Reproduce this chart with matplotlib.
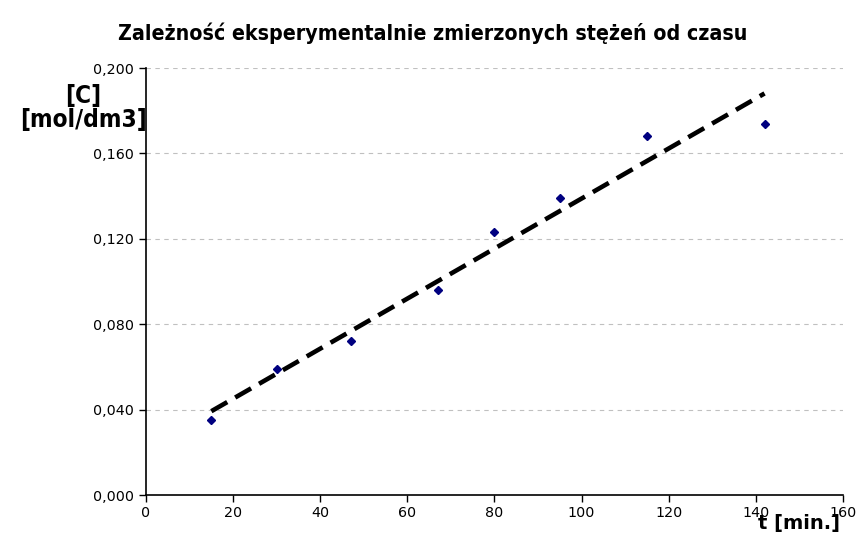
import numpy as np
import matplotlib.pyplot as plt
from matplotlib.ticker import FuncFormatter

# dane pomiarowe
t_min = [15, 30, 47, 67, 80, 95, 115, 142]
conc = [0.035, 0.059, 0.072, 0.096, 0.123, 0.139, 0.168, 0.174]
x_ticks = [0, 20, 40, 60, 80, 100, 120, 140, 160]
y_ticks = [0.0, 0.04, 0.08, 0.12, 0.16, 0.2]

fig = plt.figure(figsize=(8.66, 5.48), dpi=100)
ax = fig.add_axes([0.1686, 0.0967, 0.8048, 0.7792])

# linia trendu (regresja liniowa)
a, b = np.polyfit(t_min, conc, 1)
xs = np.array([min(t_min), max(t_min)])
ax.plot(xs, a * xs + b, color='black', lw=3.3, dashes=(4, 2), zorder=2)

ax.plot(t_min, conc, linestyle='none', marker='D', markersize=4.5,
        color='#000080', markeredgecolor='#000080', zorder=3)

ax.set_xlim(0, 160)
ax.set_ylim(0, 0.2)
ax.set_xticks(x_ticks)
ax.set_yticks(y_ticks)
ax.yaxis.set_major_formatter(FuncFormatter(lambda v, p: f"{v:.3f}".replace('.', ',')))
ax.tick_params(labelsize=10.3, length=5, width=1, direction='out', colors='black', pad=3.5)
ax.tick_params(axis='x', pad=3)
ax.grid(axis='y', color='#c0c0c0', linestyle=(0, (4, 4)), lw=0.8)
ax.set_axisbelow(True)
for s in ['top', 'right']:
    ax.spines[s].set_visible(False)
for s in ['left', 'bottom']:
    ax.spines[s].set_linewidth(1.2)

fig.text(0.5, 0.94, "Zależność eksperymentalnie zmierzonych stężeń od czasu",
         ha='center', va='center', fontsize=15.3, fontweight='bold', fontstretch='condensed')
fig.text(0.096, 0.803, "[C]\n[mol/dm3]", ha='center', va='center', fontsize=17.5,
         fontweight='bold', fontstretch='condensed', linespacing=1.0)
# w oryginale podpis osi x nachodzi na etykiety 140 i 160
fig.text(0.9226, 0.0456, "t [min.]", ha='center', va='center', fontsize=14, fontweight='bold')

fig.savefig('out.png', dpi=100)
